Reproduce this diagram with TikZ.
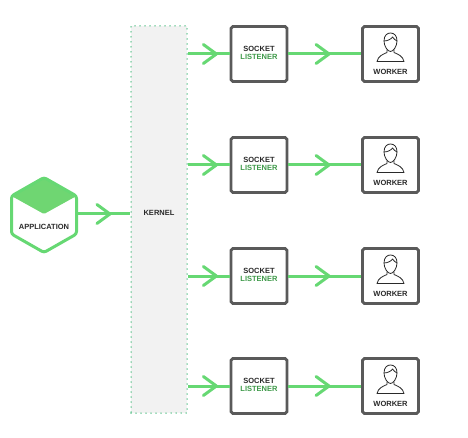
\documentclass[tikz,border=0pt]{standalone}
\usepackage{fontspec}
\setmainfont{Liberation Sans}
\usetikzlibrary{arrows.meta,calc,decorations.markings}

\definecolor{lnkgreen}{HTML}{66D873}
\definecolor{hexgreen}{HTML}{6FD672}
\definecolor{txtgreen}{HTML}{3F9A4A}
\definecolor{dotgreen}{HTML}{3FB878}
\definecolor{boxgrey}{HTML}{5A5A5A}
\definecolor{kerngrey}{HTML}{F2F2F2}
\definecolor{txtdark}{HTML}{2A2A2A}

\tikzset{
  lbl/.style={font=\bfseries\fontsize{7.5}{7.9}\selectfont,text=txtdark,align=center,inner sep=0pt},
  procbox/.style={draw=boxgrey,line width=2.8pt,rounded corners=1.8pt,fill=white,minimum width=56pt,minimum height=55pt,inner sep=0pt},
  link/.style={draw=lnkgreen,line width=3pt,postaction={decorate},
    decoration={markings,mark=at position #1 with {\arrow{Straight Barb[length=13pt,width=19pt,round]}}}},
}

\begin{document}
\begin{tikzpicture}[x=1pt,y=-1pt]
\useasboundingbox (0,0) rectangle (468,438);

% kernel
\node[draw=dotgreen,line cap=round,dash pattern=on 0pt off 5pt,line width=1.5pt,fill=kerngrey,minimum width=56pt,minimum height=387pt,inner sep=0pt] (kernel) at (159,219.5) {};
\node[lbl] (kernlab) at (159,213) {KERNEL};

% application
\coordinate (hexT) at (44,177.5);
\coordinate (hexR) at (76.5,196);
\coordinate (hexC) at (44,214);
\coordinate (hexL) at (11.5,196);
\coordinate (hexE) at (76.5,214);
\fill[hexgreen,rounded corners=1.5pt] (hexT) -- (hexR) -- (hexC) -- (hexL) -- cycle;
\draw[lnkgreen,line width=3pt,rounded corners=2.5pt] (hexT) -- (hexR) -- (76.5,234) -- (44,252.5) -- (11.5,234) -- (hexL) -- cycle;
\node[lbl] (app) at (44,227) {APPLICATION};
\draw[link=.65] (hexE) -- (kernel.west |- hexE);

% sockets and workers
\foreach \i/\y in {1/54,2/165,3/276,4/386}{
  \node[procbox] (sock\i) at (259,\y) {};
  \node[procbox] (work\i) at (390.5,\y) {};
  \node[lbl] (socklab\i) at (259,\y-1) {SOCKET\\\textcolor{txtgreen}{LISTENER}};
  \node[lbl] (worklab\i) at (390.5,\y+18) {WORKER};
  \draw[link=.72] (kernel.east |- sock\i.west) -- (sock\i.west);
  \draw[link=.58] (sock\i.east) -- (work\i.west);
  % person
  \begin{scope}[shift={(work\i.center)},draw=txtdark,line width=.8pt,line join=round]
    \draw (-6.5,-13) .. controls (-6.5,-19) and (-3,-21) .. (0,-21)
      .. controls (4,-21) and (6.5,-18) .. (6.5,-13)
      .. controls (6.5,-8) and (3,-2.5) .. (0,-2.5)
      .. controls (-3,-2.5) and (-6.5,-8) .. cycle;
    \draw (-6.5,-13) .. controls (-3,-13) and (1,-15) .. (2,-17)
      .. controls (3,-15) and (5,-14) .. (6.5,-13);
    \draw (-3.5,-4.5) -- (-3.5,-1.5) .. controls (-7,0) and (-12.5,2) .. (-13.5,7.5) -- (13.5,7.5)
      .. controls (12.5,2) and (7,0) .. (3.5,-1.5) -- (3.5,-4.5);
  \end{scope}
}
\end{tikzpicture}
\end{document}
